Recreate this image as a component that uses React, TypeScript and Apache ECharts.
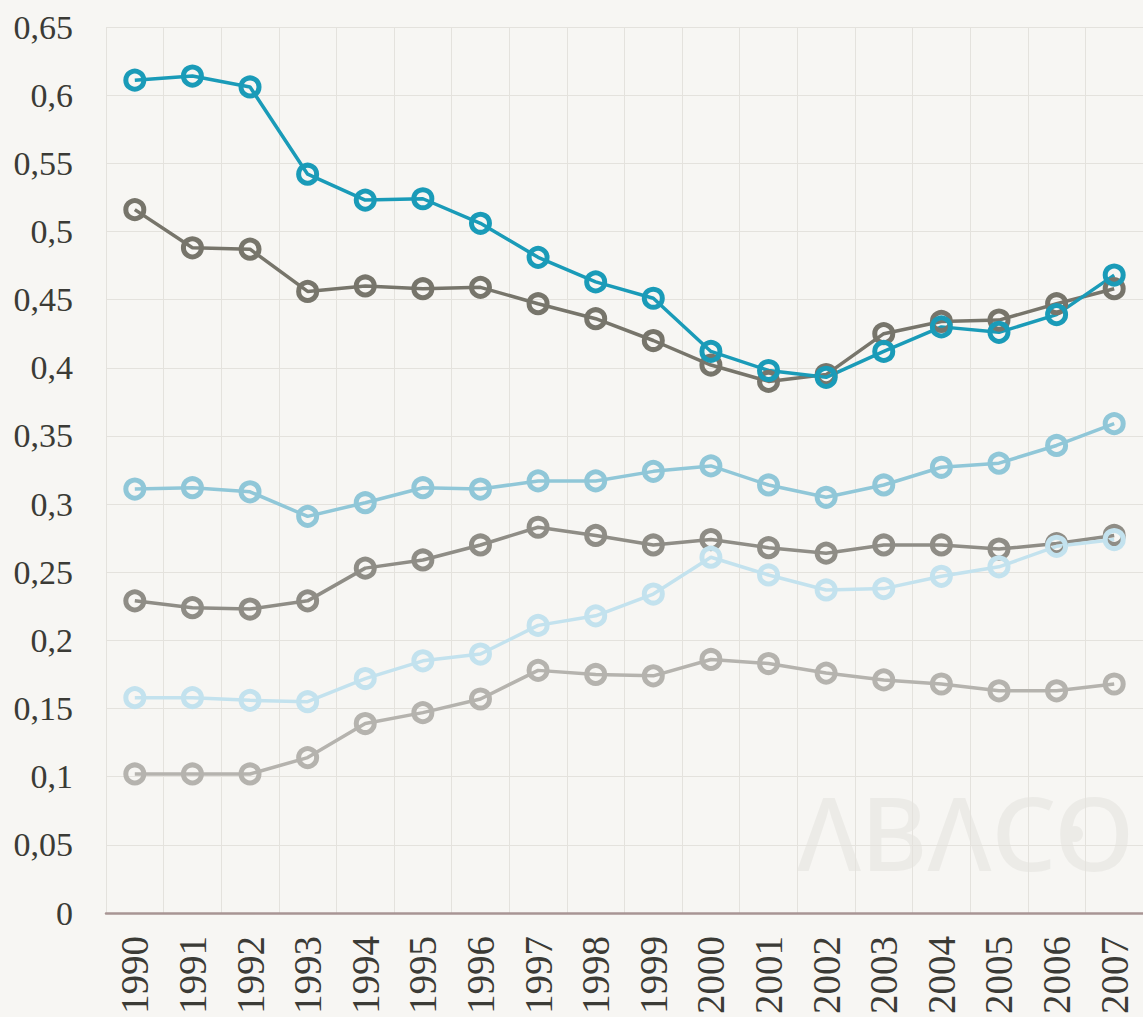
import React, { useEffect, useRef } from "react";
import * as echarts from "echarts";

const years = ["1990","1991","1992","1993","1994","1995","1996","1997","1998","1999","2000","2001","2002","2003","2004","2005","2006","2007"];

const tealValues = [0.611,0.614,0.606,0.542,0.523,0.524,0.506,0.481,0.463,0.451,0.412,0.398,0.393,0.412,0.430,0.426,0.439,0.468];
const darkGrayValues = [0.516,0.488,0.487,0.456,0.460,0.458,0.459,0.447,0.436,0.420,0.402,0.390,0.395,0.425,0.434,0.435,0.447,0.458];
const lightTealValues = [0.311,0.312,0.309,0.291,0.301,0.312,0.311,0.317,0.317,0.324,0.328,0.314,0.305,0.314,0.327,0.330,0.343,0.359];
const midGrayValues = [0.229,0.224,0.223,0.229,0.253,0.259,0.270,0.283,0.277,0.270,0.274,0.268,0.264,0.270,0.270,0.267,0.271,0.277];
const paleBlueValues = [0.158,0.158,0.156,0.155,0.172,0.185,0.190,0.211,0.218,0.234,0.261,0.248,0.237,0.238,0.247,0.254,0.269,0.274];
const lightGrayValues = [0.102,0.102,0.102,0.114,0.139,0.147,0.157,0.178,0.175,0.174,0.186,0.183,0.176,0.171,0.168,0.163,0.163,0.168];

function mkSeries(name: string, data: number[], color: string) {
  return {
    name,
    type: "line",
    data,
    symbol: "circle",
    symbolSize: 18,
    showSymbol: true,
    lineStyle: { color, width: 3.5 },
    itemStyle: { color: "rgba(0,0,0,0)", borderColor: color, borderWidth: 5 },
    emphasis: { disabled: true },
  };
}

export default function App() {
  const ref = useRef<HTMLDivElement>(null);
  useEffect(() => {
    if (!ref.current) return;
    const chart = echarts.init(ref.current, null, { renderer: "svg" });
    const serif = "'Liberation Serif', 'DejaVu Serif', serif";
    chart.setOption({
      animation: false,
      backgroundColor: "#f7f6f3",
      grid: { left: 106, right: -8, top: 27, height: 895, containLabel: false },
      xAxis: {
        type: "category",
        data: years,
        boundaryGap: true,
        axisTick: { show: false },
        axisLine: { show: true, lineStyle: { color: "#a89594", width: 2.5 } },
        splitLine: { show: true, lineStyle: { color: "#e4e2dd", width: 1 } },
        axisLabel: {
          rotate: 90,
          margin: 23,
          fontSize: 39,
          fontFamily: serif,
          color: "#3b3b36",
          interval: 0,
        },
        z: 3,
      },
      yAxis: {
        type: "value",
        min: 0,
        max: 0.65,
        interval: 0.05,
        axisLine: { show: false },
        axisTick: { show: false },
        splitLine: { show: true, lineStyle: { color: "#e4e2dd", width: 1 } },
        axisLabel: {
          margin: 33,
          fontSize: 34,
          fontFamily: serif,
          color: "#3b3b36",
          formatter: (v: number) => {
            const s = String(Math.round(v * 100) / 100);
            return s.replace(".", ",");
          },
        },
      },
      graphic: [
        {
          type: "text",
          left: 797,
          top: 780,
          z: 0,
          silent: true,
          style: {
            text: "ΛBΛCO",
            fontSize: 102,
            fontFamily: "'Noto Sans', sans-serif",
            fontWeight: 500,
            fill: "#ecebe7",
          },
        },
        {
          type: "circle",
          shape: { cx: 1075, cy: 834, r: 8 },
          z: 0,
          silent: true,
          style: { fill: "#ecebe7" },
        },
      ],
      series: [
        mkSeries("lightGray", lightGrayValues, "#b5b3ae"),
        mkSeries("midGray", midGrayValues, "#8f8d86"),
        mkSeries("darkGray", darkGrayValues, "#77756b"),
        mkSeries("paleBlue", paleBlueValues, "#c3e2ee"),
        mkSeries("lightTeal", lightTealValues, "#90c7d8"),
        mkSeries("teal", tealValues, "#1a9bb8"),
      ],
    });
    return () => chart.dispose();
  }, []);
  return (
    <div
      ref={ref}
      style={{ position: "fixed", left: 0, top: 0, width: 1143, height: 1017 }}
    />
  );
}
